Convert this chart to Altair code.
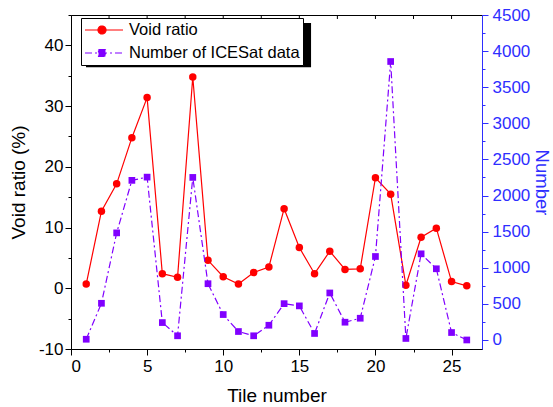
import altair as alt
import pandas as pd

# ---- data ----
tiles = list(range(1, 27))
void_ratio = [0.7, 12.7, 17.2, 24.8, 31.4, 2.4, 1.8, 34.8, 4.6, 1.9, 0.7, 2.6, 3.5,
              13.1, 6.7, 2.4, 6.1, 3.1, 3.2, 18.2, 15.5, 0.5, 8.4, 9.9, 1.1, 0.4]
icesat_count = [10, 508, 1483, 2210, 2255, 241, 58, 2251, 779, 352, 117, 58, 204,
                503, 472, 90, 651, 246, 301, 1156, 3856, 21, 1193, 986, 103, 0]
series_names = ["Void ratio", "Number of ICESat data"]

x_ticks = [0, 2.5, 5, 7.5, 10, 12.5, 15, 17.5, 20, 22.5, 25]
top_ticks = [2.5, 5, 7.5, 10, 12.5, 15, 17.5, 20, 22.5, 25]
left_ticks = [-10, -5, 0, 5, 10, 15, 20, 25, 30, 35, 40, 45]
right_ticks = list(range(0, 4501, 250))

RED = "#ff0000"
PURPLE = "#8000ff"
BLUE = "#2e2eff"
FONT = "Liberation Sans"
DASH = [7, 3, 2, 3]

df = pd.DataFrame({"tile": tiles, "void": void_ratio, "count": icesat_count})
top_df = pd.DataFrame({"tile": top_ticks})
legend_df = pd.DataFrame({"series": series_names})
# legend drop-shadow box (decoration), in axis units
shadow_df = pd.DataFrame({"tile": [0.985], "tile_end": [15.77], "void": [36.4], "void_end": [43.7]})

X = alt.X(
    "tile:Q",
    scale=alt.Scale(domain=[0, 27], nice=False, zero=False),
    axis=alt.Axis(
        values=x_ticks,
        labelExpr="datum.value % 5 === 0 ? datum.label : ''",
        tickSize={"condition": {"test": "datum.value % 5 === 0", "value": 6}, "value": 3},
        title="Tile number",
        grid=False,
        domainColor="black",
        tickColor="black",
        labelColor="black",
        labelFontSize=17,
        labelPadding=3,
        titleFontSize=19,
        titleFontWeight="normal",
        titleColor="black",
        titlePadding=12,
        labelFont=FONT,
        titleFont=FONT,
    ),
)

Y_left = alt.Y(
    "void:Q",
    scale=alt.Scale(domain=[-10, 45], nice=False, zero=False),
    axis=alt.Axis(
        values=left_ticks,
        labelExpr="datum.value % 10 === 0 ? '' + datum.value : ''",
        tickSize={"condition": {"test": "datum.value % 10 === 0", "value": 6}, "value": 3},
        title="Void ratio (%)",
        grid=False,
        domainColor="black",
        tickColor="black",
        labelColor="black",
        labelFontSize=17,
        labelPadding=2,
        titleFontSize=19,
        titleFontWeight="normal",
        titleColor="black",
        titlePadding=10,
        labelFont=FONT,
        titleFont=FONT,
    ),
)

Y_right = alt.Y(
    "count:Q",
    scale=alt.Scale(domain=[-125, 4500], nice=False, zero=False),
    axis=alt.Axis(
        orient="right",
        values=right_ticks,
        format="d",
        labelExpr="datum.value % 500 === 0 ? datum.label : ''",
        tickSize={"condition": {"test": "datum.value % 500 === 0", "value": 6}, "value": 3},
        title="Number",
        titleAngle=90,
        grid=False,
        domainColor=BLUE,
        tickColor=BLUE,
        labelColor=BLUE,
        titleColor=BLUE,
        labelFontSize=17,
        labelPadding=4,
        titleFontSize=18.5,
        titleFontWeight="normal",
        titlePadding=2,
        labelFont=FONT,
        titleFont=FONT,
    ),
)

base = alt.Chart(df)

shadow = alt.Chart(shadow_df).mark_rect(color="black", opacity=1).encode(
    x=X, x2="tile_end:Q", y=Y_left, y2="void_end:Q"
)

left_line = base.mark_line(color=RED, strokeWidth=1.2).encode(x=X, y=Y_left)
left_pts = base.mark_point(filled=True, shape="circle", size=56, color=RED, opacity=1).encode(x=X, y=Y_left)

top_rules = alt.Chart(top_df).mark_rule(color="black", strokeWidth=1).encode(
    x=X,
    y=alt.value(0),
    y2=alt.value(4),
)

circle_path = "M-1,0L3.75,0M0.625,0A0.5,0.5,0,1,1,1.625,0A0.5,0.5,0,1,1,0.625,0Z"
square_path = "M-1,0L3.75,0M0.69,-0.44L1.56,-0.44L1.56,0.44L0.69,0.44Z"

leg = alt.Legend(title=None)
legend_layer = alt.Chart(legend_df).mark_point(filled=True, opacity=1).encode(
    fill=alt.Fill("series:N", scale=alt.Scale(domain=series_names, range=[RED, PURPLE]), legend=leg),
    stroke=alt.Stroke("series:N", scale=alt.Scale(domain=series_names, range=[RED, PURPLE]), legend=leg),
    shape=alt.Shape("series:N", scale=alt.Scale(domain=series_names, range=[circle_path, square_path]), legend=leg),
    strokeDash=alt.StrokeDash("series:N", scale=alt.Scale(domain=series_names, range=[[1, 0], DASH]), legend=leg),
).transform_filter("false")

right_line = base.mark_line(color=PURPLE, strokeWidth=1.2, strokeDash=DASH).encode(x=X, y=Y_right)
right_pts = base.mark_point(filled=True, shape="square", size=45, color=PURPLE, opacity=1).encode(x=X, y=Y_right)

left = alt.layer(shadow, left_line, left_pts, top_rules, legend_layer)
right = alt.layer(right_line, right_pts)

chart = (
    alt.layer(left, right)
    .resolve_scale(y="independent")
    .properties(
        width=411,
        height=334,
        autosize=alt.AutoSizeParams(type="none"),
        padding={"left": 71, "top": 15, "right": 71, "bottom": 58},
        background="white",
    )
    .configure_view(stroke="black", strokeWidth=1)
    .configure_legend(
        orient="none",
        legendX=10,
        legendY=3,
        symbolSize=256,
        symbolStrokeWidth=1.2,
        labelOffset=27,
        labelLimit=400,
        labelFont=FONT,
        labelFontSize=16.5,
        labelColor="black",
        padding=3,
        rowPadding=5,
        strokeColor="black",
        fillColor="white",
    )
)

chart.save("out.html", embed_options={"renderer": "svg", "actions": False})
